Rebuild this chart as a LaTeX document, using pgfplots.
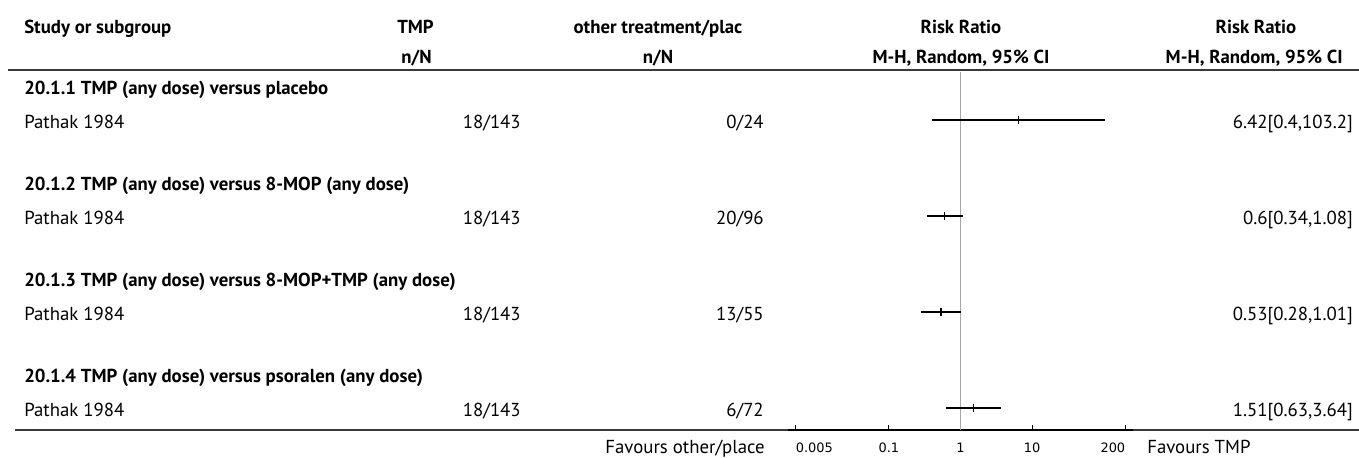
\documentclass[border=0pt]{standalone}
\usepackage{pgfplots}
\pgfplotsset{compat=1.18}
\usepackage{fontspec}
\setmainfont{PT Sans}
\newfontfamily\tickfont{DejaVu Sans}
\definecolor{rulec}{HTML}{3A3A3A}
\newcommand\tl[1]{\mbox{\tickfont\fontsize{9.7}{10}\selectfont #1}}
\begin{document}
\begin{tikzpicture}[x=0.75pt,y=-0.75pt,
  txt/.style={inner sep=0pt,font=\fontsize{14.1}{16}\selectfont},
  bld/.style={inner sep=0pt,font=\fontsize{14.1}{16}\selectfont\bfseries}]
\path[use as bounding box] (0,0) rectangle (1359,457);
% headers
\node[bld,anchor=base west] at (24,33) {Study or subgroup};
\node[bld,anchor=base east] at (434,33) {TMP};
\node[bld,anchor=base] at (658,33) {other treatment/plac};
\node[bld,anchor=base] at (961,33) {Risk Ratio};
\node[bld,anchor=base] at (1256,33) {Risk Ratio};
\node[bld,anchor=base east] at (432,63) {n/N};
\node[bld,anchor=base] at (658,63) {n/N};
\node[bld,anchor=base] at (961,63) {M-H, Random, 95\% CI};
\node[bld,anchor=base east] at (1343,63) {M-H, Random, 95\% CI};
\draw[rulec,line width=1.5pt] (8,70) -- (1359,70);
% groups
\node[bld,anchor=base west] at (24,94) {20.1.1 TMP (any dose) versus placebo};
\node[bld,anchor=base west] at (24,190) {20.1.2 TMP (any dose) versus 8-MOP (any dose)};
\node[bld,anchor=base west] at (24,286) {20.1.3 TMP (any dose) versus 8-MOP+TMP (any dose)};
\node[bld,anchor=base west] at (24,382) {20.1.4 TMP (any dose) versus psoralen (any dose)};
% studies
\foreach \yy/\oo in {128/0\slash 24, 224/20\slash 96, 320/13\slash 55, 416/6\slash 72}{
  \node[txt,anchor=base west] at (24,\yy) {Pathak 1984};
  \node[txt,anchor=base east] at (521,\yy) {18/143};
  \node[txt,anchor=base east] at (764,\yy) {\oo};
}
\node[txt,anchor=base east] at (1353,128) {6.42[0.4,103.2]};
\node[txt,anchor=base east] at (1353,224) {0.6[0.34,1.08]};
\node[txt,anchor=base east] at (1353,320) {0.53[0.28,1.01]};
\node[txt,anchor=base east] at (1353,416) {1.51[0.63,3.64]};
\draw[rulec,line width=1.2pt] (15,430) -- (1359,430);
\node[txt,anchor=base east] at (765,453) {Favours other/place};
\node[txt,anchor=base west] at (1147,453) {Favours TMP};
\begin{axis}[
  at={(591pt,-322.5pt)}, anchor=south west,
  scale only axis, width=258.75pt, height=268.5pt,
  xmode=log, xmin=0.00389, xmax=257, ymin=0, ymax=358,
  hide y axis, axis x line*=bottom,
  axis line style={black,line width=1.3pt,-},
  xtick={0.005,0.1,1,10,200},
  xticklabels={\makebox[0pt][l]{\tl{0.005}},\tl{0.1},\tl{1},\tl{10},\makebox[0pt][r]{\tl{200}}},
  xminorticks=false,
  tick align=inside, major tick length=4pt,
  tick style={black,line width=0.8pt},
  xticklabel style={yshift=-6.5pt},
  clip=false]
\addplot[gray!70,line width=1pt] coordinates {(1,0) (1,358)};
\addplot[black,line width=1pt] coordinates {(0.4,310) (103.2,310)};
\addplot[black,line width=1pt] coordinates {(0.34,214) (1.08,214)};
\addplot[black,line width=1pt] coordinates {(0.28,118) (1.01,118)};
\addplot[black,line width=1pt] coordinates {(0.63,22) (3.64,22)};
\addplot[only marks,mark=|,mark size=3.3pt,mark options={black,line width=1.2pt}]
  coordinates {(6.42,310) (0.6,214) (0.53,118) (1.51,22)};
\end{axis}
\end{tikzpicture}
\end{document}
